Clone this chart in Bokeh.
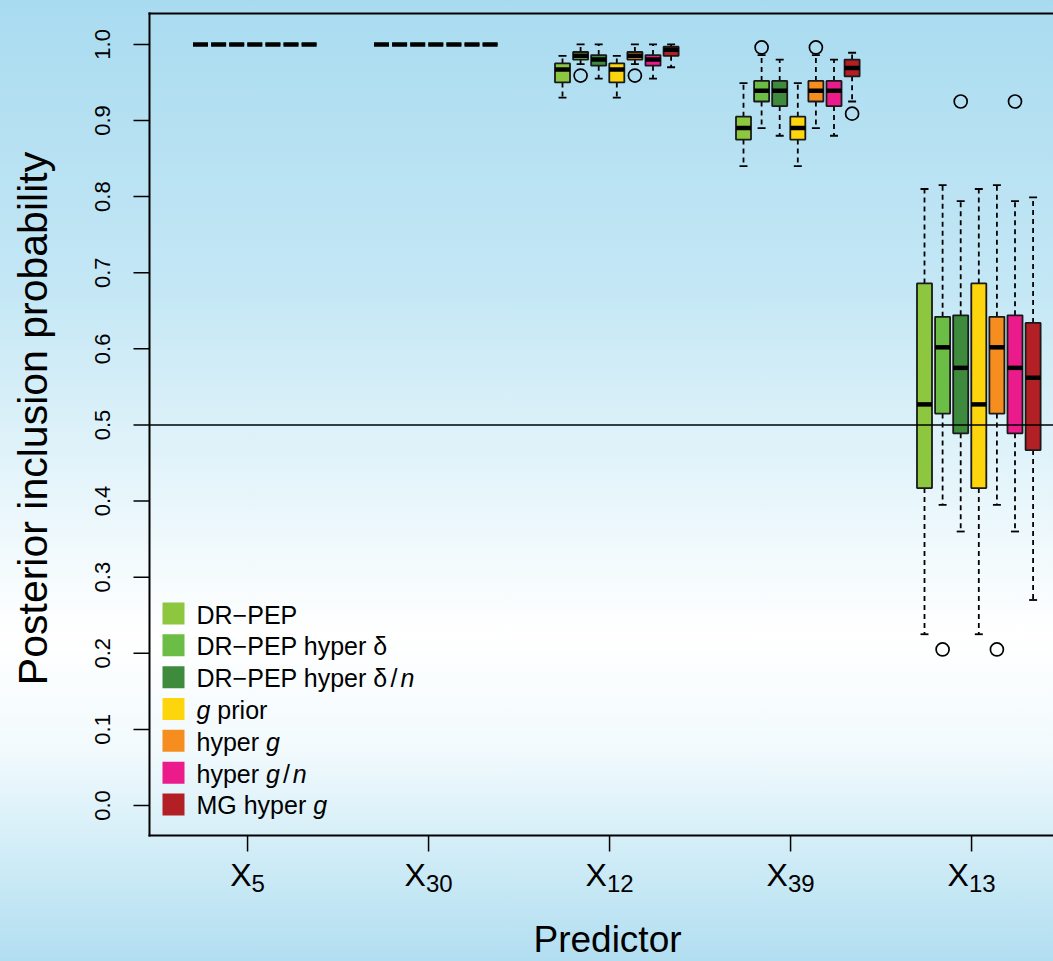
import math
from bokeh.plotting import figure
from bokeh.models import Range1d, ColumnDataSource
from bokeh.core.properties import value
from bokeh.embed import file_html
from bokeh.resources import INLINE

# ---------------- data ----------------
predictors = ["X5", "X30", "X12", "X39", "X13"]
pred_base = "X"
pred_sub = ["5", "30", "12", "39", "13"]
methods = ["DR−PEP", "DR−PEP hyper δ", "DR−PEP hyper δ/n", "g prior", "hyper g", "hyper g/n", "MG hyper g"]
colors = ["#8dc63f", "#6cbd45", "#3f8b3e", "#fdd50c", "#f68d1f", "#ec1b8c", "#b22025"]

whisk_lo = {
    "X5":  [1.0, 1.0, 1.0, 1.0, 1.0, 1.0, 1.0],
    "X30": [1.0, 1.0, 1.0, 1.0, 1.0, 1.0, 1.0],
    "X12": [0.930, 0.974, 0.955, 0.930, 0.974, 0.955, 0.970],
    "X39": [0.840, 0.890, 0.880, 0.840, 0.890, 0.880, 0.925],
    "X13": [0.225, 0.395, 0.360, 0.225, 0.395, 0.360, 0.270],
}
q1 = {
    "X5":  [1.0, 1.0, 1.0, 1.0, 1.0, 1.0, 1.0],
    "X30": [1.0, 1.0, 1.0, 1.0, 1.0, 1.0, 1.0],
    "X12": [0.950, 0.980, 0.972, 0.950, 0.980, 0.972, 0.985],
    "X39": [0.875, 0.925, 0.919, 0.875, 0.925, 0.919, 0.958],
    "X13": [0.417, 0.515, 0.489, 0.417, 0.515, 0.489, 0.467],
}
median = {
    "X5":  [1.0, 1.0, 1.0, 1.0, 1.0, 1.0, 1.0],
    "X30": [1.0, 1.0, 1.0, 1.0, 1.0, 1.0, 1.0],
    "X12": [0.967, 0.985, 0.980, 0.967, 0.985, 0.980, 0.993],
    "X39": [0.890, 0.939, 0.939, 0.890, 0.939, 0.939, 0.969],
    "X13": [0.527, 0.602, 0.575, 0.527, 0.602, 0.575, 0.562],
}
q3 = {
    "X5":  [1.0, 1.0, 1.0, 1.0, 1.0, 1.0, 1.0],
    "X30": [1.0, 1.0, 1.0, 1.0, 1.0, 1.0, 1.0],
    "X12": [0.975, 0.990, 0.986, 0.975, 0.990, 0.986, 0.997],
    "X39": [0.905, 0.952, 0.952, 0.905, 0.952, 0.952, 0.980],
    "X13": [0.686, 0.642, 0.644, 0.686, 0.642, 0.644, 0.634],
}
whisk_hi = {
    "X5":  [1.0, 1.0, 1.0, 1.0, 1.0, 1.0, 1.0],
    "X30": [1.0, 1.0, 1.0, 1.0, 1.0, 1.0, 1.0],
    "X12": [0.985, 1.000, 1.000, 0.985, 1.000, 1.000, 1.000],
    "X39": [0.949, 0.986, 0.980, 0.949, 0.986, 0.980, 0.989],
    "X13": [0.810, 0.815, 0.794, 0.810, 0.815, 0.794, 0.799],
}
# outliers: (predictor, method index, value)
outlier_pred = ["X12", "X12", "X39", "X39", "X39", "X13", "X13", "X13", "X13"]
outlier_meth = [1, 4, 1, 4, 6, 1, 4, 2, 5]
outlier_val = [0.959, 0.959, 0.996, 0.996, 0.909, 0.205, 0.205, 0.925, 0.925]

yticks = [0.0, 0.1, 0.2, 0.3, 0.4, 0.5, 0.6, 0.7, 0.8, 0.9, 1.0]
ytick_labels = ["0.0", "0.1", "0.2", "0.3", "0.4", "0.5", "0.6", "0.7", "0.8", "0.9", "1.0"]

# ---------------- layout constants ----------------
W, H = 1053, 961
PXU_X = 18.1          # pixels per box slot
PXU_Y = 761.1         # pixels per probability unit
X_REF_PX, X_REF = 562.0, 20.0   # pixel of first box of third group
Y_ZERO_PX = 805.0
FL, FT, FB = 149, 13, 835       # plot box left / top / bottom (px)
GROUP = 10
TICK_OFF = 2.6
HALF = 0.415
CAP = 0.22
FONT = "Liberation Sans"
BASE_SHIFT = 0.36     # renderer places the alphabetic baseline this many em below the anchor


def dx(px):
    return X_REF + (px - X_REF_PX) / PXU_X


def dy(py):
    return (Y_ZERO_PX - py) / PXU_Y


X0, X1 = dx(0), dx(W)
Y0, Y1 = dy(H), dy(0)

p = figure(width=W, height=H, x_range=Range1d(X0, X1), y_range=Range1d(Y0, Y1),
           output_backend="svg", toolbar_location=None,
           min_border=0, min_border_left=0, min_border_right=0, min_border_top=0, min_border_bottom=0,
           x_axis_location=None, y_axis_location=None)
p.background_fill_color = None
p.border_fill_color = None
p.outline_line_color = None
p.xgrid.visible = False
p.ygrid.visible = False
p.styles = {"background-image": "linear-gradient(to bottom, #a9dbf0 0%, #c4e7f5 30%, #e8f6fb 52%, #ffffff 66%, #f2fafd 78%, #cdebf6 90%, #b2def1 100%)"}

# ---------------- box plots ----------------
xs, lo, b1, md, b3, hi, fc = [], [], [], [], [], [], []
for g, pr in enumerate(predictors):
    for i in range(len(methods)):
        xs.append(g * GROUP + i)
        lo.append(whisk_lo[pr][i]); b1.append(q1[pr][i]); md.append(median[pr][i])
        b3.append(q3[pr][i]); hi.append(whisk_hi[pr][i]); fc.append(colors[i])
src = ColumnDataSource(dict(x=xs, lo=lo, q1=b1, med=md, q3=b3, hi=hi, color=fc,
                            left=[x - HALF for x in xs], right=[x + HALF for x in xs],
                            cl=[x - CAP for x in xs], cr=[x + CAP for x in xs]))

p.segment(x0="x", y0="q3", x1="x", y1="hi", source=src, line_color="black", line_width=1.8, line_dash="5 4")
p.segment(x0="x", y0="q1", x1="x", y1="lo", source=src, line_color="black", line_width=1.8, line_dash="5 4")
p.segment(x0="cl", y0="hi", x1="cr", y1="hi", source=src, line_color="black", line_width=1.8)
p.segment(x0="cl", y0="lo", x1="cr", y1="lo", source=src, line_color="black", line_width=1.8)
p.quad(left="left", right="right", bottom="q1", top="q3", source=src, fill_color="color",
       line_color="#1a1a1a", line_width=1.8)
p.segment(x0="left", y0="med", x1="right", y1="med", source=src, line_color="black", line_width=4.5,
          line_cap="butt")

ox = [predictors.index(pr) * GROUP + m for pr, m in zip(outlier_pred, outlier_meth)]
p.scatter(x=ox, y=outlier_val, marker="circle", size=13, fill_color=None, line_color="black", line_width=1.7)

# reference line at 0.5 (inside the plot box)
p.segment(x0=[dx(FL)], y0=[0.5], x1=[X1], y1=[0.5], line_color="black", line_width=1.5)

# ---------------- plot box and axes (drawn by hand) ----------------
p.segment(x0=[dx(FL), dx(FL), dx(FL)], y0=[dy(FT), dy(FT), dy(FB)],
          x1=[dx(FL), X1, X1], y1=[dy(FB), dy(FT), dy(FB)],
          line_color="black", line_width=2, line_cap="square")
# y ticks
p.segment(x0=[dx(FL - 16)] * len(yticks), y0=yticks, x1=[dx(FL)] * len(yticks), y1=yticks,
          line_color="black", line_width=1.5)
YT = 22
p.text(x=[dx(110 - BASE_SHIFT * YT)] * len(yticks), y=yticks, text=ytick_labels, angle=math.pi / 2,
       text_font=value(FONT), text_font_size=value(f"{YT}px"), text_align="center",
       text_baseline="alphabetic", text_color="black")
# x ticks
tick_pos = [g * GROUP + TICK_OFF for g in range(len(predictors))]
p.segment(x0=tick_pos, y0=[dy(FB)] * len(tick_pos), x1=tick_pos, y1=[dy(FB + 16)] * len(tick_pos),
          line_color="black", line_width=1.5)
XS, SS = 32, 24
xl_x, sub_x = [], []
for t, sub in zip(tick_pos, pred_sub):
    wX = 0.667 * XS
    wS = 0.556 * SS * len(sub)
    start = t - (wX + wS) / 2 / PXU_X
    xl_x.append(start)
    sub_x.append(start + wX / PXU_X)
p.text(x=xl_x, y=[dy(886 - BASE_SHIFT * XS)] * len(xl_x), text=[pred_base] * len(xl_x), text_font=value(FONT),
       text_font_size=value(f"{XS}px"), text_align="left", text_baseline="alphabetic", text_color="black")
p.text(x=sub_x, y=[dy(892 - BASE_SHIFT * SS)] * len(sub_x), text=pred_sub, text_font=value(FONT),
       text_font_size=value(f"{SS}px"), text_align="left", text_baseline="alphabetic", text_color="black")

# axis titles
PT, YTT = 37, 41
p.text(x=[dx(607)], y=[dy(952 - BASE_SHIFT * PT)], text=["Predictor"], text_font=value(FONT),
       text_font_size=value(f"{PT}px"), text_align="center", text_baseline="alphabetic", text_color="black")
p.text(x=[dx(47 - BASE_SHIFT * YTT)], y=[dy(418)], text=["Posterior inclusion probability"], angle=math.pi / 2,
       text_font=value(FONT), text_font_size=value(f"{YTT}px"), text_align="center",
       text_baseline="alphabetic", text_color="black")

# ---------------- legend ----------------
CW = {' ': 278, 'D': 722, 'R': 722, '−': 584, 'P': 667, 'E': 667, 'h': 556, 'y': 500, 'p': 556,
      'e': 556, 'r': 333, 'δ': 556, '/': 278, 'n': 556, 'g': 556, 'i': 222, 'o': 556, 'M': 833, 'G': 778}
LF = 25


def tw(s):
    return sum(CW.get(c, 556) for c in s) * LF / 1000.0


legend_rows = [
    [("DR−PEP", False)],
    [("DR−PEP hyper δ", False)],
    [("DR−PEP hyper δ", False), ("/", False), ("n", True)],
    [("g", True), (" ", False), ("prior", False)],
    [("hyper", False), (" ", False), ("g", True)],
    [("hyper", False), (" ", False), ("g", True), ("/", False), ("n", True)],
    [("MG hyper", False), (" ", False), ("g", True)],
]
sq_x, sq_y = [], []
n_x, n_y, n_t = [], [], []
i_x, i_y, i_t = [], [], []
for i, row in enumerate(legend_rows):
    yc = 613 + 31.83 * i
    sq_x.append(dx(173)); sq_y.append(dy(yc))
    ybase = dy(yc + 10 - BASE_SHIFT * LF)
    xpos = 196.0
    for txt, ital in row:
        if txt == " ":
            xpos += tw(" ")
            continue
        if txt == "/":
            xpos += 3
        if ital:
            i_x.append(dx(xpos)); i_y.append(ybase); i_t.append(txt)
        else:
            n_x.append(dx(xpos)); n_y.append(ybase); n_t.append(txt)
        xpos += tw(txt)
        if txt == "/":
            xpos += 3
p.rect(x=sq_x, y=sq_y, width=22, height=22, width_units="screen", height_units="screen",
       fill_color=colors, line_color=None)
p.text(x=n_x, y=n_y, text=n_t, text_font=value(FONT), text_font_size=value(f"{LF}px"),
       text_align="left", text_baseline="alphabetic", text_color="black")
p.text(x=i_x, y=i_y, text=i_t, text_font=value(FONT), text_font_size=value(f"{LF}px"),
       text_font_style=value("italic"), text_align="left", text_baseline="alphabetic", text_color="black")

open("out.html", "w").write(file_html(p, INLINE))
